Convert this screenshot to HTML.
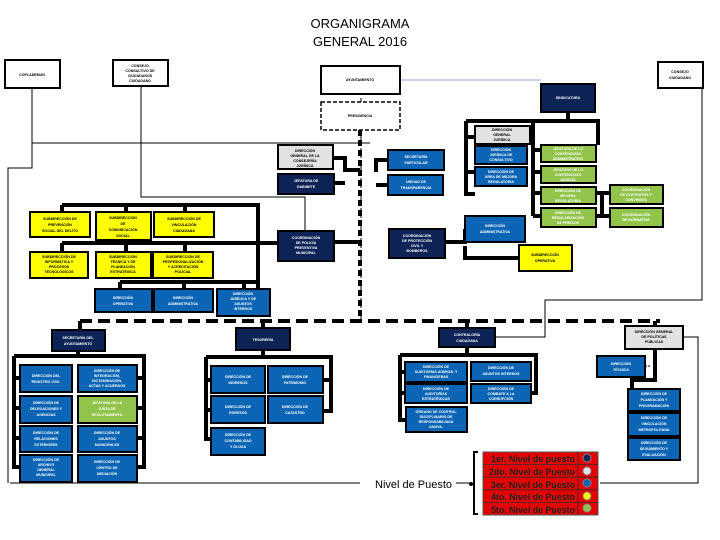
<!DOCTYPE html>
<html><head><meta charset="utf-8"><style>
body{margin:0;background:#fff}
svg{display:block}
text{font-family:"Liberation Sans",sans-serif;font-weight:bold}
.s{font-size:3.6px;text-anchor:middle}
.w{fill:#fff}
.k{fill:#000}
.N{fill:#0d2356;stroke:#000;stroke-width:2}
.B{fill:#0b64b4;stroke:#000;stroke-width:2}
.Y{fill:#ffff00;stroke:#000;stroke-width:2}
.G{fill:#92c44c;stroke:#000;stroke-width:2}
.R{fill:#e2e2e2;stroke:#000;stroke-width:2}
.W{fill:#fff;stroke:#000;stroke-width:2}
.t{fill:none;stroke:#000;stroke-width:4}
.n{fill:none;stroke:#000;stroke-width:1}
</style></head><body>
<svg width="720" height="540" viewBox="0 0 720 540">
<text x="360" y="28" text-anchor="middle" style="font-size:13px;font-weight:normal">ORGANIGRAMA</text>
<text x="360" y="46" text-anchor="middle" style="font-size:13px;font-weight:normal">GENERAL 2016</text>

<path class="n" d="M32 88V168H8V483M32 143H370M141 86V197H305V231M321 143H360"/>
<path class="n" d="M702 88V300H545V337H495" />
<path d="M361 98V143M361 130V321" class="n" stroke-dasharray="4 2"/>
<path d="M400 80H541" stroke="#6b8db5" stroke-width="0.8" fill="none"/>
<path class="n" d="M10 483H360M456 483H470M600 483H698V337H683" />
<path class="t" d="M360 130V321" stroke-dasharray="6 4"/>
<path class="t" d="M80 321H660" stroke-dasharray="12 6"/>
<path class="t" d="M334 158H345V170H360M334 183H345M444 160H376V172M444 185H376M334 242H360M445 242H465V229M465 246V258H519"/>
<path class="t" d="M62 205V212M62 205H258V282M126 205V212M185 205V212M62 243V252M62 243H278M126 243V252M185 243V252M120 282H258V289M120 282V289M184 282V289M244 282V289"/>
<path class="t" d="M568 112V121M466 121H598V145M466 121V194H475M466 137H475M466 172H475M533 121V216M533 150H541M533 172H541M533 193H541M533 216H541M596 193H610M596 216H610M602 193V216"/>
<path class="t" d="M80 321V330M78 351V356M14 356H144V467H137M14 356V467H20M14 378H20M14 408H20M14 438H20M137 378H144M137 408H144M137 438H144"/>
<path class="t" d="M263 321V328M263 350V357M206 357H331V411H323M206 357V439H211M206 380H211M206 410H211M323 380H331"/>
<path class="t" d="M467 321V328M467 347V355M400 355H536V393H531M400 355V420H405M400 372H405M400 393H405"/>
<path class="t" d="M655 321V326M655 349V380H632V448H628M632 400H628M632 424H628"/>
<path class="n" d="M645 366H650M683 337H698" stroke-dasharray="2 1"/>

<rect class="W" x="5" y="60" width="55" height="28"/><text class="s k" x="32" y="76">COPLADEMUN</text>
<rect class="W" x="113" y="60" width="55" height="26"/><text class="s k" x="140" y="67">CONSEJO</text><text class="s k" x="140" y="72">CONSULTIVO DE</text><text class="s k" x="140" y="77">CIUDADANOS</text><text class="s k" x="140" y="82">CIUDADANO</text>
<rect class="W" x="321" y="66" width="79" height="28"/><text class="s k" x="360" y="81">AYUNTAMIENTO</text>
<rect class="W" x="658" y="62" width="45" height="26"/><text class="s k" x="680" y="73">CONSEJO</text><text class="s k" x="680" y="79">CIUDADANO</text>
<rect x="321" y="102" width="79" height="28" fill="#fff" stroke="#000" stroke-width="1.5" stroke-dasharray="4 2"/><text class="s k" x="360" y="117">PRESIDENCIA</text>
<rect class="N" x="541" y="84" width="54" height="28"/><text class="s w" x="568" y="99">SINDICATURA</text>

<rect class="R" x="278" y="145" width="55" height="24"/><text class="s k" x="305" y="152">DIRECCIÓN</text><text class="s k" x="305" y="157">GENERAL DE LA</text><text class="s k" x="305" y="162">CONSEJERÍA</text><text class="s k" x="305" y="167">JURÍDICA</text>
<rect class="N" x="278" y="174" width="56" height="20"/><text class="s w" x="306" y="182">JEFATURA DE</text><text class="s w" x="306" y="188">GABINETE</text>
<rect class="B" x="388" y="150" width="56" height="20"/><text class="s w" x="416" y="158">SECRETARÍA</text><text class="s w" x="416" y="164">PARTICULAR</text>
<rect class="B" x="388" y="175" width="55" height="20"/><text class="s w" x="416" y="183">UNIDAD DE</text><text class="s w" x="416" y="189">TRANSPARENCIA</text>

<rect class="R" x="475" y="126" width="55" height="18"/><text class="s k" x="502" y="131">DIRECCIÓN</text><text class="s k" x="502" y="136">GENERAL</text><text class="s k" x="502" y="141">JURÍDICA</text>
<rect class="B" x="475" y="146" width="52" height="18"/><text class="s w" x="501" y="151">DIRECCIÓN</text><text class="s w" x="501" y="156">JURÍDICA DE</text><text class="s w" x="501" y="161">CONSULTIVO</text>
<rect class="B" x="475" y="167" width="52" height="19"/><text class="s w" x="501" y="173">DIRECCIÓN DE</text><text class="s w" x="501" y="178">ÁREA DE MEJORA</text><text class="s w" x="501" y="183">REGULATORIA</text>
<rect class="G" x="541" y="145" width="55" height="17"/><text class="s w" x="568" y="150">JEFATURA DE LO</text><text class="s w" x="568" y="155">CONTENCIOSO</text><text class="s w" x="568" y="160">ADMINISTRATIVO</text>
<rect class="G" x="541" y="166" width="55" height="17"/><text class="s w" x="568" y="171">JEFATURA DE LO</text><text class="s w" x="568" y="176">CONTENCIOSO</text><text class="s w" x="568" y="181">JUDICIAL</text>
<rect class="G" x="541" y="187" width="55" height="17"/><text class="s w" x="568" y="192">DIRECCIÓN DE</text><text class="s w" x="568" y="197">MEJORA</text><text class="s w" x="568" y="202">REGULATORIA</text>
<rect class="G" x="541" y="208" width="55" height="19"/><text class="s w" x="568" y="214">DIRECCIÓN DE</text><text class="s w" x="568" y="219">REGULARIZACIÓN</text><text class="s w" x="568" y="224">DE PREDIOS</text>
<rect class="G" x="610" y="185" width="53" height="19"/><text class="s w" x="636" y="191">COORDINACIÓN</text><text class="s w" x="636" y="196">DE CONTRATOS Y</text><text class="s w" x="636" y="201">CONVENIOS</text>
<rect class="G" x="610" y="208" width="53" height="19"/><text class="s w" x="636" y="216">COORDINACIÓN</text><text class="s w" x="636" y="221">DE NORMATIVA</text>

<rect class="B" x="465" y="216" width="60" height="26"/><text class="s w" x="495" y="227">DIRECCIÓN</text><text class="s w" x="495" y="233">ADMINISTRATIVA</text>
<rect class="Y" x="519" y="245" width="53" height="26"/><text class="s k" x="545" y="256">SUBDIRECCIÓN</text><text class="s k" x="545" y="262">OPERATIVA</text>
<rect class="N" x="389" y="229" width="56" height="29"/><text class="s w" x="417" y="237">COORDINACIÓN</text><text class="s w" x="417" y="242">DE PROTECCIÓN</text><text class="s w" x="417" y="247">CIVIL Y</text><text class="s w" x="417" y="252">BOMBEROS</text>
<rect class="N" x="278" y="231" width="56" height="30"/><text class="s w" x="306" y="239">COORDINACIÓN</text><text class="s w" x="306" y="244">DE POLICÍA</text><text class="s w" x="306" y="249">PREVENTIVA</text><text class="s w" x="306" y="254">MUNICIPAL</text>

<rect class="Y" x="30" y="212" width="60" height="25"/><text class="s k" x="60" y="220">SUBDIRECCIÓN DE</text><text class="s k" x="60" y="226">PREVENCIÓN</text><text class="s k" x="60" y="232">SOCIAL DEL DELITO</text>
<rect class="Y" x="96" y="212" width="55" height="28"/><text class="s k" x="123" y="219">SUBDIRECCIÓN</text><text class="s k" x="123" y="225">DE</text><text class="s k" x="123" y="231">COMUNICACIÓN</text><text class="s k" x="123" y="237">SOCIAL</text>
<rect class="Y" x="154" y="212" width="60" height="25"/><text class="s k" x="184" y="220">SUBDIRECCIÓN DE</text><text class="s k" x="184" y="226">VINCULACIÓN</text><text class="s k" x="184" y="232">CIUDADANA</text>
<rect class="Y" x="30" y="252" width="58" height="26"/><text class="s k" x="59" y="258">SUBDIRECCIÓN DE</text><text class="s k" x="59" y="263">INFORMÁTICA Y</text><text class="s k" x="59" y="268">PROCESOS</text><text class="s k" x="59" y="273">TECNOLÓGICOS</text>
<rect class="Y" x="96" y="252" width="55" height="26"/><text class="s k" x="123" y="258">SUBDIRECCIÓN</text><text class="s k" x="123" y="263">TÉCNICA Y DE</text><text class="s k" x="123" y="268">PLANEACIÓN</text><text class="s k" x="123" y="273">ESTRATÉGICA</text>
<rect class="Y" x="153" y="252" width="60" height="26"/><text class="s k" x="183" y="258">SUBDIRECCIÓN DE</text><text class="s k" x="183" y="263">PROFESIONALIZACIÓN</text><text class="s k" x="183" y="268">Y ACREDITACIÓN</text><text class="s k" x="183" y="273">POLICIAL</text>
<rect class="B" x="95" y="289" width="57" height="23"/><text class="s w" x="123" y="299">DIRECCIÓN</text><text class="s w" x="123" y="305">OPERATIVA</text>
<rect class="B" x="154" y="289" width="59" height="23"/><text class="s w" x="183" y="299">DIRECCIÓN</text><text class="s w" x="183" y="305">ADMINISTRATIVA</text>
<rect class="B" x="217" y="289" width="53" height="27"/><text class="s w" x="243" y="295">DIRECCIÓN</text><text class="s w" x="243" y="300">JURÍDICA Y DE</text><text class="s w" x="243" y="305">ASUNTOS</text><text class="s w" x="243" y="310">INTERNOS</text>

<rect class="N" x="52" y="330" width="53" height="21"/><text class="s w" x="78" y="339">SECRETARÍA DEL</text><text class="s w" x="78" y="345">AYUNTAMIENTO</text>
<rect class="N" x="236" y="328" width="54" height="22"/><text class="s w" x="263" y="341">TESORERÍA</text>
<rect class="N" x="439" y="328" width="56" height="19"/><text class="s w" x="467" y="336">CONTRALORÍA</text><text class="s w" x="467" y="342">CIUDADANA</text>
<rect class="R" x="625" y="326" width="58" height="23"/><text class="s k" x="654" y="333">DIRECCIÓN GENERAL</text><text class="s k" x="654" y="338">DE POLÍTICAS</text><text class="s k" x="654" y="343">PÚBLICAS</text>

<rect class="B" x="20" y="365" width="52" height="27"/><text class="s w" x="46" y="377">DIRECCIÓN DEL</text><text class="s w" x="46" y="383">REGISTRO CIVIL</text>
<rect class="B" x="78" y="365" width="59" height="27"/><text class="s w" x="107" y="372">DIRECCIÓN DE</text><text class="s w" x="107" y="377">INTEGRACIÓN,</text><text class="s w" x="107" y="382">DICTAMINACIÓN,</text><text class="s w" x="107" y="387">ACTAS Y ACUERDOS</text>
<rect class="B" x="20" y="396" width="52" height="27"/><text class="s w" x="46" y="404">DIRECCIÓN DE</text><text class="s w" x="46" y="410">DELEGACIONES Y</text><text class="s w" x="46" y="416">AGENCIAS</text>
<rect class="G" x="78" y="396" width="59" height="27"/><text class="s w" x="107" y="404">JEFATURA DE LA</text><text class="s w" x="107" y="410">JUNTA DE</text><text class="s w" x="107" y="416">RECLUTAMIENTO</text>
<rect class="B" x="20" y="426" width="52" height="26"/><text class="s w" x="46" y="434">DIRECCIÓN DE</text><text class="s w" x="46" y="440">RELACIONES</text><text class="s w" x="46" y="446">EXTERIORES</text>
<rect class="B" x="78" y="426" width="59" height="26"/><text class="s w" x="107" y="434">DIRECCIÓN DE</text><text class="s w" x="107" y="440">ASUNTOS</text><text class="s w" x="107" y="446">MUNICIPALES</text>
<rect class="B" x="20" y="455" width="52" height="27"/><text class="s w" x="46" y="461">DIRECCIÓN DE</text><text class="s w" x="46" y="466">ARCHIVO</text><text class="s w" x="46" y="471">GENERAL</text><text class="s w" x="46" y="476">MUNICIPAL</text>
<rect class="B" x="78" y="455" width="59" height="27"/><text class="s w" x="107" y="463">DIRECCIÓN DE</text><text class="s w" x="107" y="469">CENTRO DE</text><text class="s w" x="107" y="475">MEDIACIÓN</text>

<rect class="B" x="211" y="366" width="54" height="27"/><text class="s w" x="238" y="378">DIRECCIÓN DE</text><text class="s w" x="238" y="384">INGRESOS</text>
<rect class="B" x="268" y="366" width="55" height="27"/><text class="s w" x="295" y="378">DIRECCIÓN DE</text><text class="s w" x="295" y="384">PATRIMONIO</text>
<rect class="B" x="211" y="396" width="54" height="27"/><text class="s w" x="238" y="408">DIRECCIÓN DE</text><text class="s w" x="238" y="414">EGRESOS</text>
<rect class="B" x="268" y="396" width="55" height="27"/><text class="s w" x="295" y="408">DIRECCIÓN DE</text><text class="s w" x="295" y="414">CATASTRO</text>
<rect class="B" x="211" y="428" width="54" height="27"/><text class="s w" x="238" y="436">DIRECCIÓN DE</text><text class="s w" x="238" y="442">CONTABILIDAD</text><text class="s w" x="238" y="448">Y GLOSA</text>

<rect class="B" x="405" y="362" width="62" height="20"/><text class="s w" x="436" y="368">DIRECCIÓN DE</text><text class="s w" x="436" y="373">AUDITORÍAS ADMVAS. Y</text><text class="s w" x="436" y="378">FINANCIERAS</text>
<rect class="B" x="471" y="362" width="60" height="19"/><text class="s w" x="501" y="369">DIRECCIÓN DE</text><text class="s w" x="501" y="375">ASUNTOS INTERNOS</text>
<rect class="B" x="405" y="384" width="62" height="19"/><text class="s w" x="436" y="390">DIRECCIÓN DE</text><text class="s w" x="436" y="395">AUDITORÍAS</text><text class="s w" x="436" y="400">ESTRATÉGICAS</text>
<rect class="B" x="471" y="384" width="60" height="19"/><text class="s w" x="501" y="390">DIRECCIÓN DE</text><text class="s w" x="501" y="395">COMBATE A LA</text><text class="s w" x="501" y="400">CORRUPCIÓN</text>
<rect class="B" x="406" y="407" width="61" height="25"/><text class="s w" x="436" y="413">ÓRGANO DE CONTROL</text><text class="s w" x="436" y="418">DISCIPLINARIO DE</text><text class="s w" x="436" y="423">RESPONSABILIDAD</text><text class="s w" x="436" y="428">ADMVA.</text>

<rect class="B" x="597" y="356" width="48" height="21"/><text class="s w" x="621" y="365">DIRECCIÓN</text><text class="s w" x="621" y="371">TÉCNICA</text>
<rect class="B" x="628" y="389" width="52" height="22"/><text class="s w" x="654" y="395">DIRECCIÓN DE</text><text class="s w" x="654" y="401">PLANEACIÓN Y</text><text class="s w" x="654" y="407">PROGRAMACIÓN</text>
<rect class="B" x="628" y="413" width="52" height="23"/><text class="s w" x="654" y="419">DIRECCIÓN DE</text><text class="s w" x="654" y="425">VINCULACIÓN</text><text class="s w" x="654" y="431">METROPOLITANA</text>
<rect class="B" x="628" y="438" width="52" height="22"/><text class="s w" x="654" y="444">DIRECCIÓN DE</text><text class="s w" x="654" y="450">SEGUIMIENTO Y</text><text class="s w" x="654" y="456">EVALUACIÓN</text>

<text x="375" y="488" style="font-size:11px;font-weight:normal">Nivel de Puesto</text>
<path d="M478 452H474V514H478" fill="none" stroke="#000" stroke-width="2"/>
<circle cx="471" cy="484" r="2"/>
<rect x="483" y="452" width="115" height="63" fill="#e50000" stroke="#555" stroke-width="1"/>
<path d="M483 464.6H598M483 477.2H598M483 489.8H598M483 502.4H598M578 452V515" stroke="#333" stroke-width="0.8"/>
<g style="font-size:9.5px;font-weight:normal;fill:#222">
<text x="491" y="462" textLength="84" lengthAdjust="spacingAndGlyphs">1er. Nivel de puesto</text>
<text x="489" y="475" textLength="86" lengthAdjust="spacingAndGlyphs">2do. Nivel de Puesto</text>
<text x="491" y="488" textLength="84" lengthAdjust="spacingAndGlyphs">3er. Nivel de Puesto</text>
<text x="491" y="500" textLength="84" lengthAdjust="spacingAndGlyphs">4to. Nivel de Puesto</text>
<text x="491" y="513" textLength="84" lengthAdjust="spacingAndGlyphs">5to. Nivel de Puesto</text>
</g>
<circle cx="587" cy="458" r="4" fill="#0d2356" stroke="#888"/>
<circle cx="587" cy="471" r="4" fill="#dde4ef" stroke="#888"/>
<circle cx="587" cy="483" r="4" fill="#0b64b4" stroke="#888"/>
<circle cx="587" cy="496" r="4" fill="#ffff00" stroke="#888"/>
<circle cx="587" cy="508" r="4" fill="#92c44c" stroke="#888"/>
</svg>
</body></html>
